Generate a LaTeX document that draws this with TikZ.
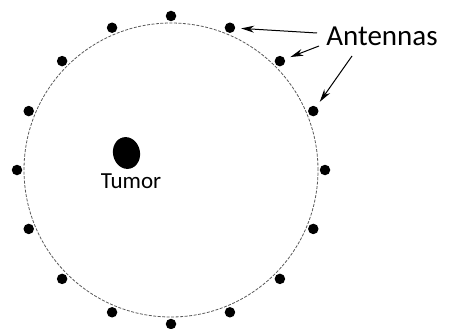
\documentclass[tikz,border=0pt]{standalone}
\usepackage{fontspec}
\setmainfont{Carlito}
\usetikzlibrary{arrows.meta}
\begin{document}
\begin{tikzpicture}[x=1pt,y=-1pt,
  antenna/.style={circle,fill=black,inner sep=0pt,minimum size=10.5pt,outer sep=6pt},
  ring/.style={draw=black!65,dash pattern=on 3pt off 1.5pt,line width=0.8pt},
  pointer/.style={-{Stealth[length=13pt,width=7pt]},line width=1pt},
  lbl/.style={inner sep=0pt,text=black}]
\useasboundingbox (0,0) rectangle (450,329);
\draw[ring] (171,170) circle[radius=147pt];
\foreach \i in {0,...,15}
  \node[antenna] (a\i) at ({171+154*sin(22.5*\i)},{170-154*cos(22.5*\i)}) {};
\fill[rotate around={12:(126.5,153)}] (126.5,153) ellipse[x radius=13.5pt, y radius=16pt];
\node[lbl,font=\fontsize{23}{23}\selectfont,anchor=base] (tumor) at (131,188) {Tumor};
\node[lbl,font=\fontsize{29}{29}\selectfont,anchor=base] (ant) at (382,46) {Antennas};
\coordinate (s1) at (317,33);
\coordinate (s2) at (319,46);
\coordinate (s3) at (352,56);
\draw[pointer] (s1) -- (a1);
\draw[pointer] (s2) -- (a2);
\draw[pointer] (s3) -- (a3);
\end{tikzpicture}
\end{document}
